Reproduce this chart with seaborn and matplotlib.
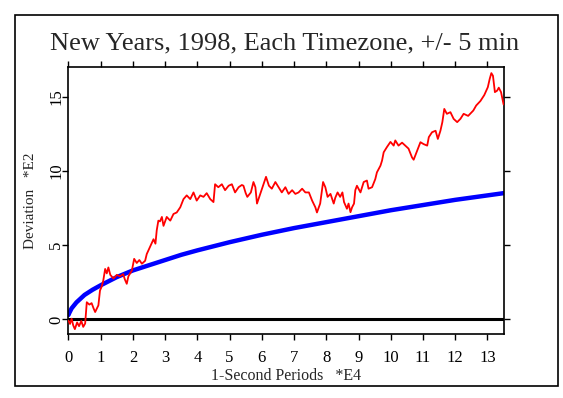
import matplotlib
matplotlib.use("Agg")
import matplotlib.pyplot as plt
import seaborn as sns
import pandas as pd
from matplotlib.patches import Rectangle

# cumulative deviation (x in 1e4 seconds, y in 1e2)
red_x = [0.00, 0.05, 0.10, 0.15, 0.20, 0.27, 0.33, 0.40, 0.46, 0.52,
         0.57, 0.65, 0.72, 0.78, 0.83, 0.93, 0.98, 1.03, 1.08, 1.14,
         1.19, 1.24, 1.30, 1.40, 1.50, 1.60, 1.70, 1.75, 1.81, 1.86,
         1.97, 2.04, 2.12, 2.20, 2.28, 2.38, 2.43, 2.53, 2.64, 2.70,
         2.74, 2.79, 2.84, 2.90, 2.95, 3.05, 3.16, 3.26, 3.36, 3.47,
         3.57, 3.67, 3.78, 3.88, 3.98, 4.09, 4.19, 4.29, 4.40, 4.50,
         4.55, 4.65, 4.76, 4.86, 4.97, 5.07, 5.17, 5.28, 5.38, 5.43,
         5.50, 5.55, 5.66, 5.74, 5.80, 5.85, 5.95, 6.05, 6.13, 6.22,
         6.31, 6.42, 6.52, 6.62, 6.73, 6.83, 6.94, 7.04, 7.14, 7.25,
         7.35, 7.46, 7.56, 7.66, 7.71, 7.81, 7.90, 7.97, 8.04, 8.13,
         8.23, 8.28, 8.35, 8.43, 8.50, 8.55, 8.64, 8.69, 8.75, 8.80,
         8.86, 8.90, 8.95, 9.06, 9.16, 9.26, 9.31, 9.42, 9.52, 9.57,
         9.68, 9.73, 9.78, 9.88, 9.99, 10.09, 10.14, 10.24, 10.35, 10.45,
         10.55, 10.66, 10.71, 10.82, 10.92, 11.02, 11.13, 11.18, 11.28, 11.39,
         11.46, 11.54, 11.60, 11.66, 11.74, 11.85, 11.95, 12.06, 12.16, 12.26,
         12.40, 12.56, 12.65, 12.78, 12.90, 13.01, 13.07, 13.12, 13.17, 13.23,
         13.30, 13.35, 13.42, 13.50]
red_y = [-0.07, -0.3, 0.05, -0.4, -0.65, -0.2, -0.45, -0.1, -0.5, -0.27,
         1.16, 1.0, 1.1, 0.75, 0.5, 0.95, 1.95, 2.2, 2.6, 3.4,
         3.1, 3.5, 3.0, 2.75, 3.0, 2.9, 3.05, 2.7, 2.4, 2.9,
         3.3, 4.08, 3.8, 4.0, 3.75, 3.95, 4.4, 4.87, 5.4, 5.1,
         6.0, 6.65, 6.6, 6.9, 6.3, 6.9, 6.65, 7.1, 7.2, 7.55,
         8.1, 8.35, 8.1, 8.55, 8.0, 8.35, 8.25, 8.5, 8.1, 7.9,
         9.1, 8.9, 9.1, 8.7, 9.0, 9.1, 8.55, 8.9, 9.05, 9.0,
         8.5, 8.25, 8.55, 9.25, 8.9, 7.8, 8.45, 9.1, 9.6, 9.0,
         8.8, 9.25, 8.9, 8.55, 8.9, 8.45, 8.7, 8.45, 8.55, 8.8,
         8.55, 8.55, 8.0, 7.55, 7.2, 7.8, 9.25, 8.9, 8.25, 8.45,
         7.8, 8.2, 8.55, 8.25, 8.55, 7.9, 7.45, 7.8, 7.22, 7.55,
         7.8, 8.7, 9.0, 8.55, 9.25, 9.35, 8.8, 8.9, 9.45, 9.9,
         10.35, 10.7, 11.25, 11.6, 11.95, 11.7, 12.05, 11.7, 11.9, 11.7,
         11.5, 10.9, 10.75, 11.37, 11.93, 11.8, 11.7, 12.27, 12.6, 12.7,
         12.15, 12.7, 13.28, 14.17, 13.84, 13.95, 13.5, 13.28, 13.5, 13.84,
         13.7, 14.06, 14.4, 14.7, 15.1, 15.63, 16.2, 16.58, 16.4, 15.3,
         15.4, 15.6, 15.3, 14.47]

# 2-sigma envelope
blue_x = [0.0, 0.03, 0.1, 0.25, 0.5, 0.75, 1.0, 1.5, 2.0, 2.5, 3.0, 3.5,
          4.0, 5.0, 6.0, 7.0, 8.0, 9.0, 10.0, 11.0, 12.0, 13.0, 13.5]
blue_y = [0.3, 0.45, 0.75, 1.15, 1.65, 2.0, 2.3, 2.85, 3.3, 3.65, 4.0, 4.35,
          4.65, 5.2, 5.7, 6.15, 6.55, 6.95, 7.35, 7.7, 8.05, 8.35, 8.5]

x_ticks = list(range(0, 14))
y_ticks = [0, 5, 10, 15]

red = pd.DataFrame({'x': red_x, 'y': red_y})
blue = pd.DataFrame({'x': blue_x, 'y': blue_y})

sns.set_style("ticks")
plt.rcParams['font.family'] = ['Liberation Serif', 'DejaVu Serif']

fig = plt.figure(figsize=(5.63, 3.98), dpi=100)
ax = fig.add_axes([0.1215, 0.160, 0.773, 0.672])

ax.axhline(0, color='black', lw=2.2, zorder=1)
sns.lineplot(data=blue, x='x', y='y', ax=ax, color='#0000ff', lw=3.2,
             estimator=None, sort=False, zorder=2)
sns.lineplot(data=red, x='x', y='y', ax=ax, color='#ff0000', lw=1.3,
             estimator=None, sort=False, zorder=3)

ax.set_xlim(0, 13.5)
ax.set_ylim(-1, 17)
ax.set_xticks(x_ticks)
ax.set_yticks(y_ticks)
ax.set_yticklabels([str(t) for t in y_ticks], rotation=90, va='center')
ax.tick_params(axis='both', direction='out', length=4, width=1, labelsize=12,
               top=True, right=True, labeltop=False, labelright=False, colors='black')
ax.tick_params(axis='x', pad=7)
ax.tick_params(axis='y', pad=-1)
for s in ax.spines.values():
    s.set_visible(True)
    s.set_linewidth(1.2)
    s.set_color('black')

ax.set_xlabel('1-Second Periods   *E4', fontsize=11.5, va='center')
ax.set_ylabel('Deviation   *E2', fontsize=11, va='center')
ax.xaxis.set_label_coords(0.5, -0.156)
ax.yaxis.set_label_coords(-0.086, 0.5)
fig.text(0.505, 0.892, 'New Years, 1998, Each Timezone, +/- 5 min',
         ha='center', va='center', fontsize=19)

# outer box round the whole chart
fig.patches.append(Rectangle((14.5 / 563, 12 / 398), 543 / 563, 371.5 / 398,
                             transform=fig.transFigure, fill=False,
                             edgecolor='black', lw=1.2))

fig.savefig('out.png', dpi=100)
